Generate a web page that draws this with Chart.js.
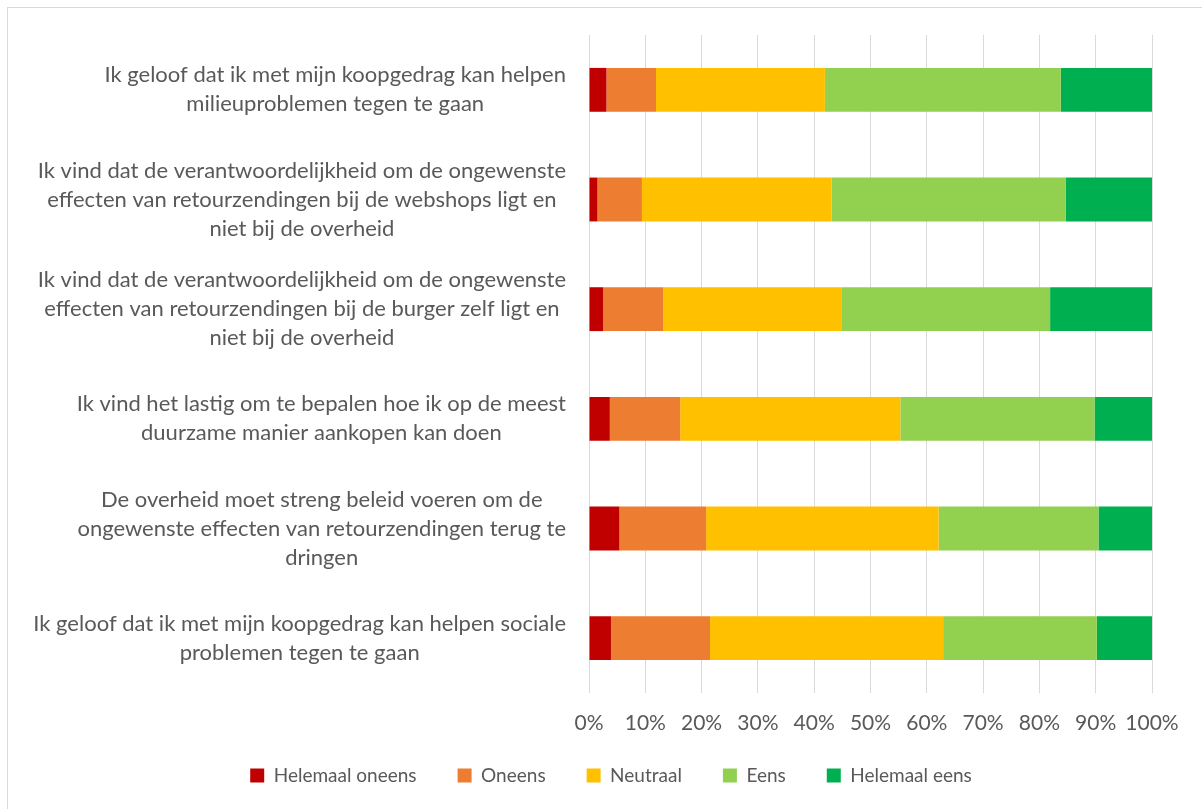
<!DOCTYPE html>
<html>
<head>
<meta charset="utf-8">
<script src="https://cdn.jsdelivr.net/npm/chart.js@4/dist/chart.umd.min.js"></script>
<style>
  html, body { margin: 0; padding: 0; background: #ffffff; overflow: hidden; }
  #wrap { position: relative; width: 1202px; height: 809px; }
  #frame { position: absolute; left: 7px; top: 7px; width: 1210px; height: 820px; border: 1px solid #d9d9d9; box-sizing: border-box; }
  canvas { position: absolute; left: 0; top: 0; }
</style>
</head>
<body>
<div id="wrap">
  <div id="frame"></div>
  <canvas id="c" width="1202" height="809"></canvas>
</div>
<script>
// ---- data ----
const categories = [
  ["Ik geloof dat ik met mijn koopgedrag kan helpen", "milieuproblemen tegen te gaan"],
  ["Ik vind dat de verantwoordelijkheid om de ongewenste", "effecten van retourzendingen bij de webshops ligt en", "niet bij de overheid"],
  ["Ik vind dat de verantwoordelijkheid om de ongewenste", "effecten van retourzendingen bij de burger zelf ligt en", "niet bij de overheid"],
  ["Ik vind het lastig om te bepalen hoe ik op de meest", "duurzame manier aankopen kan doen"],
  ["De overheid moet streng beleid voeren om de", "ongewenste effecten van retourzendingen terug te", "dringen"],
  ["Ik geloof dat ik met mijn koopgedrag kan helpen sociale", "problemen tegen te gaan"]
];
const seriesNames = ["Helemaal oneens", "Oneens", "Neutraal", "Eens", "Helemaal eens"];
const helemaalOneens = [3.1, 1.5, 2.5, 3.7, 5.4, 3.9];
const oneens         = [8.8, 7.9, 10.7, 12.5, 15.4, 17.6];
const neutraal       = [30.0, 33.7, 31.6, 39.1, 41.3, 41.4];
const eens           = [41.9, 41.6, 37.1, 34.5, 28.4, 27.3];
const helemaalEens   = [16.2, 15.3, 18.1, 10.2, 9.5, 9.8];
const xTicks = [0, 10, 20, 30, 40, 50, 60, 70, 80, 90, 100];
const xTickLabels = ["0%", "10%", "20%", "30%", "40%", "50%", "60%", "70%", "80%", "90%", "100%"];

// ---- styles ----
const colors = ["#C00000", "#ED7D31", "#FFC000", "#92D050", "#00B050"];
const FONT = "Lato, 'Open Sans', sans-serif";
const TEXT = "#595959";
const LABEL_SIZE = 22;
const XTICK_SIZE = 21;
const LEGEND_SIZE = 19;
const LABEL_RIGHT = 566;
const LINE_H = 29;
const XLABEL_OFFSET = 30;

const seriesValues = [helemaalOneens, oneens, neutraal, eens, helemaalEens];

const axisLabelPlugin = {
  id: 'axisLabels',
  afterDraw(chart) {
    const ctx = chart.ctx;
    const y = chart.scales.y;
    const x = chart.scales.x;
    ctx.save();
    ctx.fillStyle = TEXT;
    ctx.textBaseline = 'middle';
    ctx.textAlign = 'center';
    // category labels: each block centred on its own widest line, right-aligned as a block
    ctx.font = LABEL_SIZE + "px " + FONT;
    categories.forEach((lines, i) => {
      const yc = y.getPixelForTick(i);
      const w = Math.max(...lines.map(l => ctx.measureText(l).width));
      const cx = LABEL_RIGHT - w / 2;
      lines.forEach((l, j) => {
        ctx.fillText(l, cx, yc + (j - (lines.length - 1) / 2) * LINE_H);
      });
    });
    // value axis labels
    ctx.font = XTICK_SIZE + "px " + FONT;
    xTicks.forEach((v, i) => {
      ctx.fillText(xTickLabels[i], x.getPixelForValue(v), chart.chartArea.bottom + XLABEL_OFFSET);
    });
    ctx.restore();
  }
};

new Chart(document.getElementById('c'), {
  type: 'bar',
  data: {
    labels: categories,
    datasets: seriesNames.map((n, i) => ({
      label: n,
      data: seriesValues[i],
      backgroundColor: colors[i],
      borderWidth: 0,
      barPercentage: 0.4,
      categoryPercentage: 1.0
    }))
  },
  options: {
    indexAxis: 'y',
    responsive: false,
    animation: false,
    devicePixelRatio: 1,
    layout: { padding: { left: 70, right: 50, top: 35, bottom: 14 } },
    scales: {
      x: {
        stacked: true,
        min: 0, max: 100,
        afterBuildTicks(s) { s.ticks = xTicks.map(v => ({ value: v })); },
        afterFit(s) { s.height = 32; },
        grid: { color: '#d9d9d9', lineWidth: 1, drawTicks: false },
        border: { display: false },
        ticks: { display: false }
      },
      y: {
        stacked: true,
        afterFit(s) { s.width = 519; },
        grid: { display: false },
        border: { display: false },
        ticks: { display: false }
      }
    },
    plugins: {
      legend: {
        position: 'bottom',
        labels: {
          color: TEXT,
          font: { family: FONT, size: LEGEND_SIZE },
          boxWidth: 14,
          boxHeight: 14,
          padding: 41
        }
      },
      tooltip: { enabled: false }
    }
  },
  plugins: [axisLabelPlugin]
});
</script>
</body>
</html>
